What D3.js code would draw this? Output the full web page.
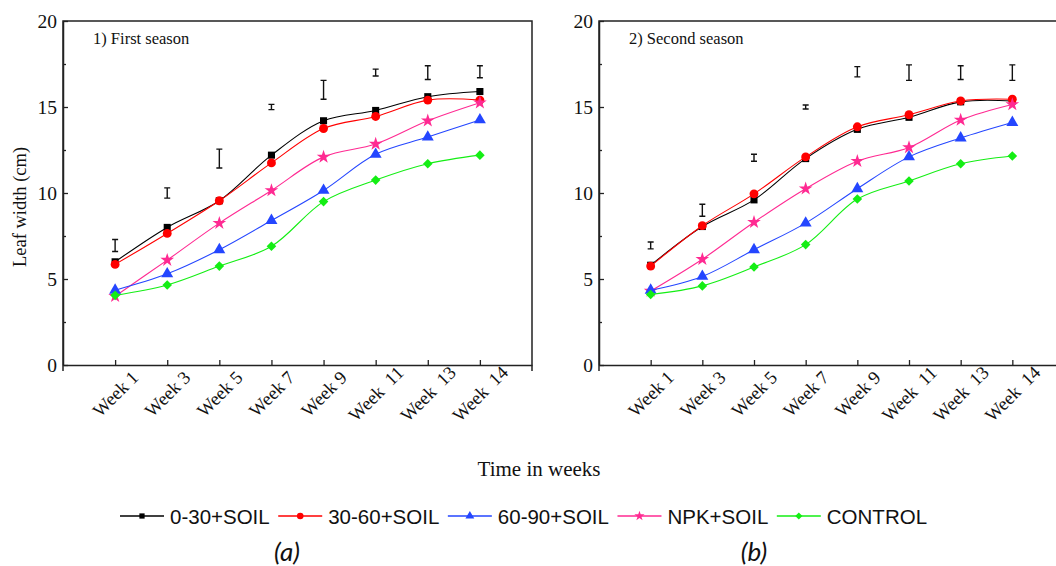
<!DOCTYPE html>
<html>
<head>
<meta charset="utf-8">
<script src="https://cdn.jsdelivr.net/npm/d3@7"></script>
<style>
  html, body { margin: 0; padding: 0; background: #fff; }
  svg { display: block; }
  .tick text { font-family: "Liberation Serif", "Times New Roman", serif; fill: #111; }
</style>
</head>
<body>
<svg id="chart" width="1056" height="566"></svg>
<script>
// Sampling weeks
const weeks = ["Week 1", "Week 3", "Week 5", "Week 7", "Week 9", "Week  11", "Week  13", "Week  14"];
const seriesNames = ["0-30+SOIL", "30-60+SOIL", "60-90+SOIL", "NPK+SOIL", "CONTROL"];
const yTicks = [0, 5, 10, 15, 20];
const yMinorTicks = [2.5, 7.5, 12.5, 17.5];

// First season leaf width (cm)
const first030 = [6.0, 8.0, 9.55, 12.2, 14.2, 14.8, 15.6, 15.9];
const first3060 = [5.85, 7.65, 9.55, 11.75, 13.75, 14.45, 15.4, 15.4];
const first6090 = [4.35, 5.3, 6.7, 8.4, 10.15, 12.25, 13.25, 14.25];
const firstNpk = [4.0, 6.1, 8.25, 10.15, 12.1, 12.85, 14.2, 15.25];
const firstControl = [4.05, 4.65, 5.75, 6.9, 9.5, 10.75, 11.7, 12.2];
// First season LSD bars: centre and half-length
const firstErrMid = [6.95, 10.0, 12.0, 15.0, 16.0, 17.0, 17.0, 17.05];
const firstErrHalf = [0.35, 0.3, 0.55, 0.15, 0.55, 0.2, 0.4, 0.35];

// Second season leaf width (cm)
const second030 = [5.8, 8.05, 9.6, 12.0, 13.7, 14.4, 15.3, 15.35];
const second3060 = [5.75, 8.1, 9.95, 12.1, 13.85, 14.55, 15.35, 15.45];
const second6090 = [4.35, 5.15, 6.7, 8.25, 10.25, 12.1, 13.2, 14.1];
const secondNpk = [4.3, 6.15, 8.3, 10.25, 11.85, 12.65, 14.25, 15.15];
const secondControl = [4.1, 4.6, 5.7, 7.0, 9.65, 10.7, 11.7, 12.15];
const secondErrMid = [6.95, 9.0, 12.05, 15.0, 17.05, 17.0, 17.0, 17.0];
const secondErrHalf = [0.2, 0.35, 0.2, 0.12, 0.3, 0.45, 0.4, 0.45];

const colors = {
  "0-30+SOIL": "#000000",
  "30-60+SOIL": "#ff0000",
  "60-90+SOIL": "#2446ff",
  "NPK+SOIL": "#ff2a92",
  "CONTROL": "#14ee14"
};

const symbolFor = {
  "0-30+SOIL": { type: d3.symbolSquare, size: 50, rot: 0 },
  "30-60+SOIL": { type: d3.symbolCircle, size: 62, rot: 0 },
  "60-90+SOIL": { type: d3.symbolTriangle, size: 62, rot: 0 },
  "NPK+SOIL": { type: d3.symbolStar, size: 58, rot: 0 },
  "CONTROL": { type: d3.symbolSquare, size: 46, rot: 45 }
};

// Draw order: later series sit on top
const drawOrder = ["0-30+SOIL", "30-60+SOIL", "NPK+SOIL", "60-90+SOIL", "CONTROL"];

const panels = [
  {
    title: "1) First season",
    left: 63, right: 532,
    values: { "0-30+SOIL": first030, "30-60+SOIL": first3060, "60-90+SOIL": first6090, "NPK+SOIL": firstNpk, "CONTROL": firstControl },
    errMid: firstErrMid, errHalf: firstErrHalf,
    yLabel: true
  },
  {
    title: "2) Second season",
    left: 599, right: 1064,
    values: { "0-30+SOIL": second030, "30-60+SOIL": second3060, "60-90+SOIL": second6090, "NPK+SOIL": secondNpk, "CONTROL": secondControl },
    errMid: secondErrMid, errHalf: secondErrHalf,
    yLabel: false
  }
];

const svg = d3.select("#chart");
svg.append("rect").attr("width", 1056).attr("height", 566).attr("fill", "#fff");

const plotTop = 21, plotBottom = 365;
const y = d3.scaleLinear().domain([0, 20]).range([plotBottom, plotTop]);

panels.forEach(p => {
  const x = d3.scaleLinear().domain([0, weeks.length + 1]).range([p.left, p.right]);
  const g = svg.append("g");

  // Frame
  g.append("path")
    .attr("d", `M${p.left},${plotBottom + 6}V${plotTop}H${p.right}V${plotBottom + 6}`)
    .attr("fill", "none").attr("stroke", "#222").attr("stroke-width", 1.5);

  // Y axis, ticks inward
  const yAxis = g.append("g").attr("transform", `translate(${p.left},0)`)
    .call(d3.axisLeft(y).tickValues(yTicks).tickSizeInner(-5).tickSizeOuter(0).tickPadding(6));
  yAxis.select(".domain").attr("stroke", "#222").attr("stroke-width", 1.5);
  yAxis.selectAll(".tick line").attr("stroke", "#222").attr("stroke-width", 1.3);
  yAxis.selectAll(".tick text").attr("font-size", 19.5).attr("dy", "0.34em");

  const yMinor = g.append("g").attr("transform", `translate(${p.left},0)`)
    .call(d3.axisLeft(y).tickValues(yMinorTicks).tickSizeInner(-3).tickSizeOuter(0).tickFormat(""));
  yMinor.select(".domain").remove();
  yMinor.selectAll(".tick line").attr("stroke", "#222").attr("stroke-width", 1.3);

  // X axis, ticks inward, labels slanted
  const xAxis = g.append("g").attr("transform", `translate(0,${plotBottom})`)
    .call(d3.axisBottom(x).tickValues(d3.range(1, weeks.length + 1))
      .tickSizeInner(-5).tickSizeOuter(0).tickFormat(i => weeks[i - 1]));
  xAxis.select(".domain").attr("stroke", "#222").attr("stroke-width", 1.5);
  xAxis.selectAll(".tick line").attr("stroke", "#222").attr("stroke-width", 1.3);
  xAxis.selectAll(".tick text")
    .attr("font-size", 18.5)
    .attr("y", 0).attr("dy", 0)
    .attr("text-anchor", "middle")
    .attr("dominant-baseline", "central")
    .attr("xml:space", "preserve")
    .style("white-space", "pre")
    .attr("transform", "translate(0,29) rotate(-45)");

  // Panel title
  g.append("text")
    .attr("x", p.left + 30).attr("y", 44)
    .attr("font-family", "'Liberation Serif', 'Times New Roman', serif")
    .attr("font-size", 16.5)
    .attr("fill", "#111")
    .text(p.title);

  // Series
  const line = d3.line()
    .x((d, i) => x(i + 1))
    .y(d => y(d))
    .curve(d3.curveCatmullRom.alpha(0.5));

  drawOrder.forEach(name => {
    const vals = p.values[name];
    g.append("path")
      .datum(vals)
      .attr("d", line)
      .attr("fill", "none")
      .attr("stroke", colors[name])
      .attr("stroke-width", 1.1);
    const s = symbolFor[name];
    g.selectAll(null)
      .data(vals)
      .join("path")
      .attr("d", d3.symbol().type(s.type).size(s.size))
      .attr("transform", (d, i) => `translate(${x(i + 1)},${y(d)}) rotate(${s.rot})`)
      .attr("fill", colors[name]);
  });

  // LSD error bars
  const cap = 3;
  p.errMid.forEach((m, i) => {
    const cx = x(i + 1);
    const y1 = y(m + p.errHalf[i]);
    const y2 = y(m - p.errHalf[i]);
    g.append("path")
      .attr("d", `M${cx - cap},${y1}H${cx + cap}M${cx},${y1}V${y2}M${cx - cap},${y2}H${cx + cap}`)
      .attr("fill", "none").attr("stroke", "#111").attr("stroke-width", 1.4);
  });

  if (p.yLabel) {
    g.append("text")
      .attr("transform", `translate(26,${(plotTop + plotBottom) / 2 + 14}) rotate(-90)`)
      .attr("text-anchor", "middle")
      .attr("font-family", "'Liberation Serif', 'Times New Roman', serif")
      .attr("font-size", 18.5)
      .attr("fill", "#111")
      .text("Leaf width (cm)");
  }
});

// Shared x-axis title
svg.append("text")
  .attr("x", 539).attr("y", 476)
  .attr("text-anchor", "middle")
  .attr("font-family", "'Liberation Serif', 'Times New Roman', serif")
  .attr("font-size", 21)
  .attr("fill", "#111")
  .text("Time in weeks");

// Legend
const legendY = 516;
let lx = 120;
const legend = svg.append("g");
seriesNames.forEach(name => {
  const item = legend.append("g");
  item.append("line")
    .attr("x1", lx).attr("x2", lx + 44)
    .attr("y1", legendY).attr("y2", legendY)
    .attr("stroke", colors[name]).attr("stroke-width", 1.6);
  const s = symbolFor[name];
  item.append("path")
    .attr("d", d3.symbol().type(s.type).size(s.size * 0.55))
    .attr("transform", `translate(${lx + 22},${legendY}) rotate(${s.rot})`)
    .attr("fill", colors[name]);
  const t = item.append("text")
    .attr("x", lx + 50).attr("y", legendY + 7.5)
    .attr("font-family", "'Liberation Sans', Arial, sans-serif")
    .attr("font-size", 20.5)
    .attr("fill", "#111")
    .text(name);
  lx = lx + 50 + t.node().getComputedTextLength() + 8.5;
});

// Sub-figure captions
[["(a)", 287], ["(b)", 754]].forEach(([label, cx]) => {
  svg.append("text")
    .attr("x", cx).attr("y", 561)
    .attr("text-anchor", "middle")
    .attr("font-family", "Lato, 'Open Sans', sans-serif")
    .attr("font-style", "italic")
    .attr("font-size", 26)
    .attr("fill", "#111")
    .text(label);
});
</script>
</body>
</html>
